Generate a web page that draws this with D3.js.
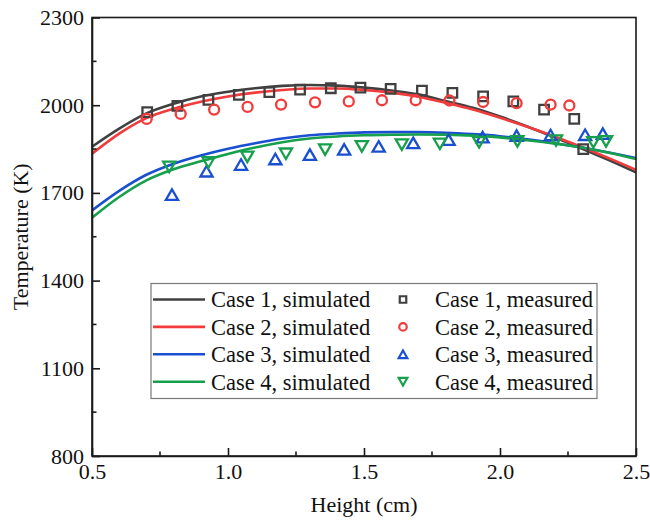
<!DOCTYPE html>
<html>
<head>
<meta charset="utf-8">
<script src="https://cdn.jsdelivr.net/npm/d3@7"></script>
<style>
  html, body { margin: 0; padding: 0; background: #fff; }
  svg { display: block; }
  text { font-family: "Liberation Serif", "Times New Roman", serif; fill: #111; }
</style>
</head>
<body>
<svg id="chart" width="650" height="521"></svg>
<script>
// ---------- DATA ----------
const simHeights = [0.5,0.6,0.7,0.8,0.9,1.0,1.1,1.2,1.3,1.4,1.5,1.6,1.7,1.8,1.9,2.0,2.1,2.2,2.3,2.4,2.5];
const sim1 = [1858,1920,1972,2005,2030,2046,2058,2066,2069,2067,2060,2050,2037,2014,1991,1961,1927,1890,1852,1812,1770];
const sim2 = [1834,1903,1956,1988,2012,2030,2043,2052,2057,2057,2052,2043,2029,2008,1985,1957,1926,1893,1857,1819,1779];
const sim3 = [1640,1707,1762,1800,1828,1851,1870,1886,1897,1903,1907,1908,1908,1906,1901,1894,1883,1870,1855,1838,1819];
const sim4 = [1615,1686,1743,1781,1808,1833,1855,1873,1886,1893,1897,1899,1900,1899,1896,1890,1880,1869,1855,1837,1816];

const meas1H = [0.703,0.814,0.928,1.040,1.152,1.265,1.378,1.487,1.598,1.713,1.825,1.938,2.049,2.162,2.273,2.306];
const meas1T = [1976,1998,2018,2035,2045,2053,2058,2060,2056,2050,2042,2030,2013,1985,1953,1850];
const meas2H = [0.701,0.826,0.949,1.072,1.195,1.320,1.444,1.566,1.690,1.814,1.938,2.061,2.186,2.255];
const meas2T = [1953,1970,1985,1994,2002,2010,2013,2017,2017,2016,2011,2007,2002,1999];
const meas3H = [0.794,0.921,1.048,1.174,1.301,1.427,1.554,1.681,1.811,1.936,2.061,2.186,2.313,2.378];
const meas3T = [1694,1774,1797,1816,1831,1849,1859,1871,1882,1891,1896,1898,1899,1903];
const meas4H = [0.784,0.928,1.071,1.213,1.357,1.492,1.639,1.779,1.923,2.064,2.206,2.343,2.390];
const meas4T = [1789,1804,1823,1834,1848,1859,1865,1868,1873,1876,1879,1873,1876];

const xTicks = [0.5,1.0,1.5,2.0,2.5];
const xMinor = [0.75,1.25,1.75,2.25];
const yTicks = [800,1100,1400,1700,2000,2300];
const yMinor = [950,1250,1550,1850,2150];

const simLabels = ["Case 1, simulated","Case 2, simulated","Case 3, simulated","Case 4, simulated"];
const measLabels = ["Case 1, measured","Case 2, measured","Case 3, measured","Case 4, measured"];
const colors = ["#404040","#f23b3b","#1a50d0","#17a04c"];
const markers = ["square","circle","up","down"];

// ---------- LAYOUT ----------
const svg = d3.select("#chart");
const L = 92, R = 636, T = 17.5, B = 456;
const x = d3.scaleLinear().domain([0.5,2.5]).range([L,R]);
const y = d3.scaleLinear().domain([800,2300]).range([B,T]);
const FS = 22, LFS = 22.5;

// curves
const sims = [sim1,sim2,sim3,sim4];
const line = d3.line().x(d => x(d[0])).y(d => y(d[1])).curve(d3.curveMonotoneX);
svg.append("clipPath").attr("id","clip").append("rect")
  .attr("x",L).attr("y",T).attr("width",R-L).attr("height",B-T);
const gCurves = svg.append("g").attr("clip-path","url(#clip)");
sims.forEach((s,i) => {
  gCurves.append("path")
    .datum(simHeights.map((h,j) => [h, s[j]]))
    .attr("d", line)
    .attr("fill","none")
    .attr("stroke", colors[i])
    .attr("stroke-width", 2.6);
});

// markers
function markerPath(type, s) {
  if (type === "square") return `M${-s/2},${-s/2}H${s/2}V${s/2}H${-s/2}Z`;
  if (type === "circle") { const r = s/2; return `M${r},0A${r},${r} 0 1,1 ${-r},0A${r},${r} 0 1,1 ${r},0Z`; }
  const w = s*0.58, h = s*0.5;
  if (type === "up") return `M0,${-h}L${w},${h}L${-w},${h}Z`;
  return `M0,${h}L${w},${-h}L${-w},${-h}Z`;
}
const meas = [[meas1H,meas1T],[meas2H,meas2T],[meas3H,meas3T],[meas4H,meas4T]];
const gMeas = svg.append("g");
const mSize = [9.5,10,10.5,10.5];
meas.forEach((m,i) => {
  const pts = m[0].map((h,j) => [h, m[1][j]]);
  gMeas.selectAll(null).data(pts).enter().append("path")
    .attr("transform", d => `translate(${x(d[0])},${y(d[1])})`)
    .attr("d", markerPath(markers[i], mSize[i]))
    .attr("fill","none")
    .attr("stroke", colors[i])
    .attr("stroke-width", 2.3);
});

// frame
svg.append("rect").attr("x",L).attr("y",T).attr("width",R-L).attr("height",B-T)
  .attr("fill","none").attr("stroke","#1a1a1a").attr("stroke-width",1.6);

// axes
const xAxis = d3.axisBottom(x).tickValues(xTicks).tickFormat(d3.format(".1f")).tickSizeInner(-8).tickSizeOuter(0).tickPadding(7);
const gx = svg.append("g").attr("transform",`translate(0,${B})`).call(xAxis);
const yAxis = d3.axisLeft(y).tickValues(yTicks).tickFormat(d3.format("d")).tickSizeInner(-8).tickSizeOuter(0).tickPadding(8);
const gy = svg.append("g").attr("transform",`translate(${L},0)`).call(yAxis);
[gx,gy].forEach(g => {
  g.select(".domain").attr("stroke","#1a1a1a").attr("stroke-width",1.6);
  g.selectAll(".tick line").attr("stroke","#1a1a1a").attr("stroke-width",1.6);
  g.selectAll(".tick text").attr("font-size",FS).attr("font-family","Liberation Serif").attr("fill","#111");
});
// minor ticks
svg.append("g").selectAll("line").data(xMinor).enter().append("line")
  .attr("x1", d => x(d)).attr("x2", d => x(d)).attr("y1", B).attr("y2", B-4.5)
  .attr("stroke","#1a1a1a").attr("stroke-width",1.6);
svg.append("g").selectAll("line").data(yMinor).enter().append("line")
  .attr("y1", d => y(d)).attr("y2", d => y(d)).attr("x1", L).attr("x2", L+4.5)
  .attr("stroke","#1a1a1a").attr("stroke-width",1.6);

// axis titles
svg.append("text").attr("x",(L+R)/2).attr("y",512).attr("text-anchor","middle")
  .attr("font-size",FS).text("Height (cm)");
svg.append("text").attr("transform",`translate(28,${(T+B)/2}) rotate(-90)`).attr("text-anchor","middle")
  .attr("font-size",FS).text("Temperature (K)");

// legend
const lg = svg.append("g");
lg.append("rect").attr("x",151).attr("y",283.5).attr("width",446).attr("height",115)
  .attr("fill","#fff").attr("stroke","#7a7a7a").attr("stroke-width",1.2);
const rowY = i => 299.5 + i*27.4;
simLabels.forEach((lab,i) => {
  lg.append("line").attr("x1",153).attr("x2",205).attr("y1",rowY(i)).attr("y2",rowY(i))
    .attr("stroke",colors[i]).attr("stroke-width",2.6);
  lg.append("text").attr("x",211).attr("y",rowY(i)).attr("dy","0.35em").attr("font-size",LFS).text(lab);
  lg.append("path").attr("transform",`translate(403,${rowY(i)})`)
    .attr("d", markerPath(markers[i], i === 0 ? 6.5 : 7.5)).attr("fill","none")
    .attr("stroke",colors[i]).attr("stroke-width",2.2);
  lg.append("text").attr("x",435).attr("y",rowY(i)).attr("dy","0.35em").attr("font-size",LFS).text(measLabels[i]);
});
</script>
</body>
</html>
